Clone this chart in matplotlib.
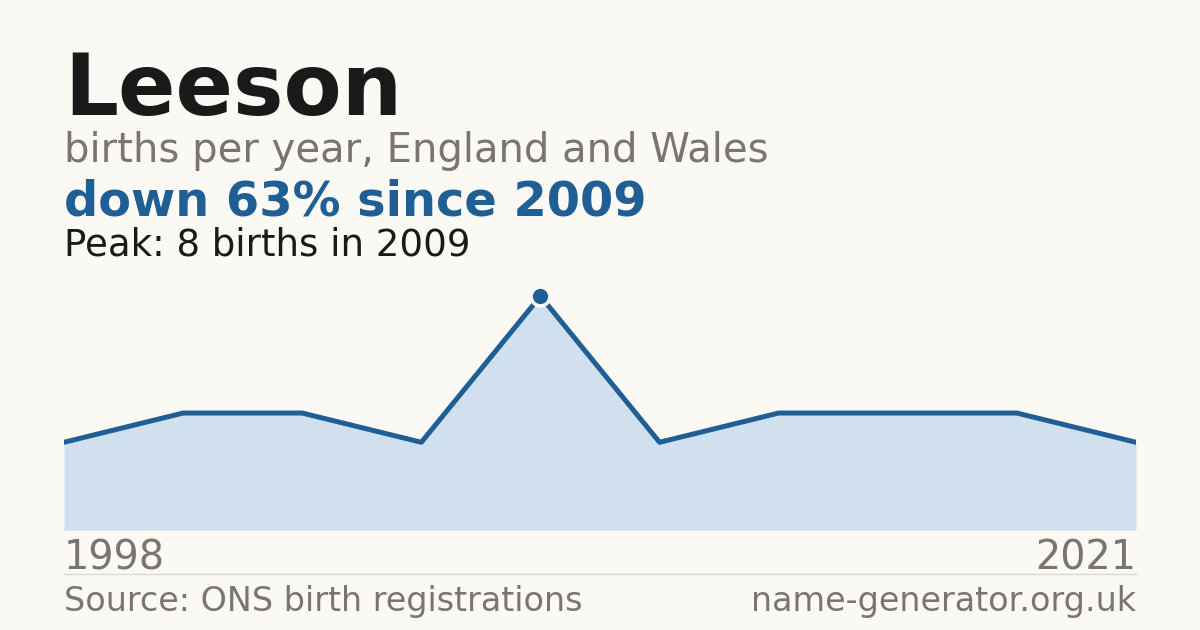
import matplotlib
matplotlib.use("Agg")
import matplotlib.pyplot as plt

plt.rcParams["font.family"] = ["DejaVu Sans"]

years = [1998, 2001, 2003, 2006, 2009, 2012, 2014, 2016, 2019, 2021]
births = [3, 4, 4, 3, 8, 3, 4, 4, 4, 3]
name = "Leeson"
peak_year = 2009
peak_value = 8

bg = "#faf9f4"
blue = "#1f5f96"
fill = "#d0e0ef"
grey = "#7a766e"
dark = "#1a1a1a"

W, H = 1200, 630
fig = plt.figure(figsize=(12, 6.3), dpi=100)
fig.patch.set_facecolor(bg)

ax = fig.add_axes([64 / W, (H - 530) / H, 1072 / W, 250 / H])
ax.set_facecolor(bg)
x = list(range(len(years)))
ax.fill_between(x, births, 0, color=fill, linewidth=0)
ax.plot(x, births, color=blue, linewidth=3.6)
ipk = births.index(peak_value)
ax.plot(x[ipk], births[ipk], "o", color=blue, markersize=13.5,
        markeredgecolor=bg, markeredgewidth=2.5, zorder=5)
ax.set_xlim(0, len(years) - 1)
ax.set_ylim(0, 8.55)
ax.axis("off")
ax.axhline(0, color="#e2dcd2", linewidth=1.5, zorder=4)

def ftext(px, py, s, **kw):
    fig.text(px / W, 1 - py / H, s, va="baseline", **kw)

drop = int((1 - births[-1] / peak_value) * 100 + 0.5)
ftext(64, 115, name, fontsize=61, fontweight="bold", color=dark)
ftext(64, 162, "births per year, England and Wales", fontsize=28.9, color=grey)
ftext(64, 215, f"down {drop}% since {peak_year}",
      fontsize=34.5, fontweight="bold", color=blue)
ftext(64, 255, f"Peak: {peak_value} births in {peak_year}", fontsize=26.7, color=dark)
ftext(64, 569, str(years[0]), fontsize=28.6, color=grey)
ftext(1136, 569, str(years[-1]), fontsize=28.6, color=grey, ha="right")
ftext(64, 611, "Source: ONS birth registrations", fontsize=24, color=grey)
ftext(1136, 611, "name-generator.org.uk", fontsize=24, color=grey, ha="right")

fig.add_artist(plt.Line2D([64 / W, 1136 / W], [1 - 574 / H, 1 - 574 / H],
                          color="#dcd8cf", linewidth=1))

fig.savefig("out.png", dpi=100, facecolor=bg)
